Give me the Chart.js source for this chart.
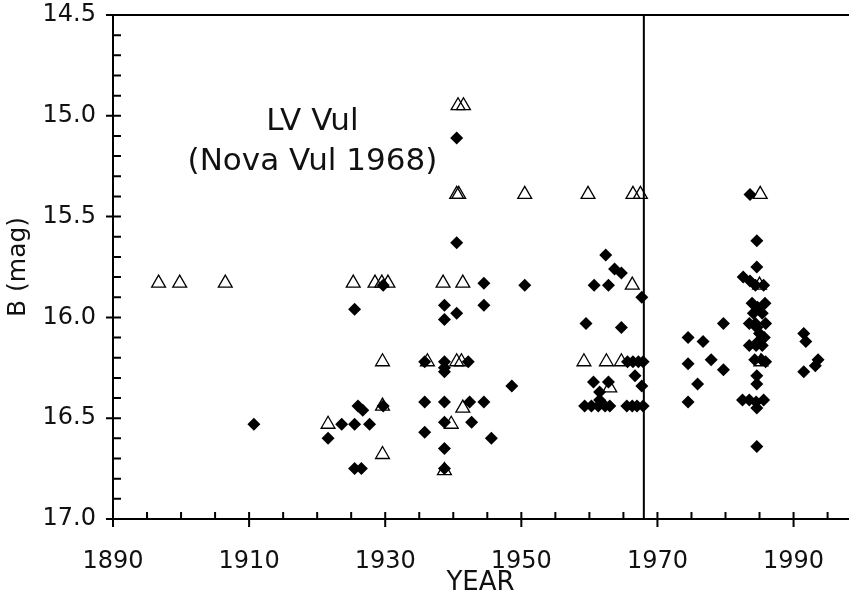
<!DOCTYPE html>
<html>
<head>
<meta charset="utf-8">
<title>LV Vul light curve</title>
<script src="https://cdn.jsdelivr.net/npm/chart.js@4.4.0/dist/chart.umd.min.js"></script>
<style>
	html, body { margin: 0; padding: 0; background: #fff; }
	canvas { display: block; }
</style>
</head>
<body>
<canvas id="lightCurve" width="849" height="596"></canvas>
<script>
const xTicks = [1890, 1910, 1930, 1950, 1970, 1990];
const yTicks = [14.5, 15.0, 15.5, 16.0, 16.5, 17.0];
const novaYear = 1968;
const labelLines = ["LV Vul", "(Nova Vul 1968)"];
const labelYear = 1919.3;
const labelMags = [15.03, 15.23];

// filled diamonds
const diamondYears = [
	1910.7, 1921.6, 1923.6, 1925.5, 1927.7, 1925.5, 1926.0, 1926.7, 1925.5, 1926.5,
	1929.7, 1929.7, 1935.8, 1935.8, 1935.8, 1938.7, 1938.7, 1938.7, 1938.7, 1938.7,
	1938.7, 1938.7, 1938.7, 1938.7, 1940.5, 1940.5, 1940.5, 1942.2, 1942.4, 1942.7,
	1944.5, 1944.5, 1944.5, 1945.6, 1948.6, 1950.5,
	1959.5, 1960.7, 1962.4, 1962.8, 1963.7, 1964.7, 1964.7, 1967.7, 1965.6, 1966.4,
	1967.2, 1967.9, 1966.7, 1960.6, 1962.8, 1961.5, 1967.7, 1959.3, 1960.3, 1961.3,
	1962.3, 1963.0, 1961.5, 1965.5, 1966.3, 1967.0, 1967.9,
	1974.5, 1974.5, 1974.5, 1975.9, 1976.7, 1977.9, 1979.7, 1979.7, 1983.6, 1984.6,
	1984.6, 1982.6, 1983.6, 1984.4, 1985.6, 1983.9, 1984.7, 1985.8, 1984.1, 1985.4,
	1983.5, 1984.4, 1985.9, 1984.6, 1985.0, 1985.7, 1984.8, 1983.5, 1984.5, 1985.4,
	1984.3, 1985.3, 1985.9, 1984.6, 1984.6, 1982.5, 1983.5, 1984.5, 1985.6, 1984.6,
	1984.6, 1991.5, 1991.8, 1991.5, 1993.6, 1993.2,
];
const diamondMags = [
	16.53, 16.60, 16.53, 16.53, 16.53, 15.96, 16.44, 16.46, 16.75, 16.75,
	15.84, 16.44, 16.22, 16.42, 16.57, 15.94, 16.01, 16.22, 16.25, 16.27,
	16.42, 16.52, 16.65, 16.75, 15.11, 15.63, 15.98, 16.22, 16.42, 16.52,
	15.83, 15.94, 16.42, 16.60, 16.34, 15.84,
	16.03, 15.84, 15.69, 15.84, 15.76, 15.78, 16.05, 15.90, 16.22, 16.22,
	16.22, 16.22, 16.29, 16.32, 16.32, 16.37, 16.34, 16.44, 16.44, 16.44,
	16.44, 16.44, 16.41, 16.44, 16.44, 16.44, 16.44,
	16.10, 16.23, 16.42, 16.33, 16.12, 16.21, 16.03, 16.26, 15.39, 15.62,
	15.75, 15.80, 15.82, 15.84, 15.84, 15.93, 15.95, 15.93, 15.98, 15.98,
	16.03, 16.03, 16.03, 16.05, 16.08, 16.10, 16.12, 16.14, 16.14, 16.14,
	16.21, 16.21, 16.22, 16.29, 16.33, 16.41, 16.41, 16.42, 16.41, 16.45,
	16.64, 16.08, 16.12, 16.27, 16.21, 16.24,
];

// open triangles
const triangleYears = [
	1896.7, 1899.8, 1906.5, 1925.3, 1928.5, 1929.5, 1930.4, 1938.5, 1941.4, 1921.6,
	1929.6, 1929.6, 1929.6, 1936.2, 1940.5, 1941.2, 1941.4, 1939.7, 1938.7, 1940.7,
	1941.5, 1940.5, 1940.8, 1950.5, 1959.8, 1966.4, 1967.5, 1966.3, 1959.2, 1962.5,
	1964.7, 1963.0, 1985.1, 1985.0, 1985.2,
];
const triangleMags = [
	15.83, 15.83, 15.83, 15.83, 15.83, 15.83, 15.83, 15.83, 15.83, 16.53,
	16.22, 16.44, 16.68, 16.22, 16.22, 16.22, 16.45, 16.53, 16.76, 14.95,
	14.95, 15.39, 15.39, 15.39, 15.39, 15.39, 15.39, 15.84, 16.22, 16.22,
	16.22, 16.35, 15.39, 15.84, 16.22,
];

const toPoints = (xs, ys) => xs.map((v, i) => ({ x: v, y: ys[i] }));

Chart.defaults.font.family = "'DejaVu Sans', Verdana, sans-serif";
Chart.defaults.color = "#111";

// keep the tick labels from pushing the plot area inwards
function noLabelPadding(s) {
	s.paddingTop = 0;
	s.paddingBottom = 0;
	s.paddingLeft = 0;
	s.paddingRight = 0;
}

const frameAndTicks = {
	id: "frameAndTicks",
	afterDraw(chart) {
		const { ctx, chartArea: a } = chart;
		const x = chart.scales.x;
		const y = chart.scales.y;
		ctx.save();
		ctx.strokeStyle = "#000";
		ctx.lineWidth = 2;
		ctx.beginPath();
		// top frame line
		ctx.moveTo(a.left, a.top);
		ctx.lineTo(a.right + 1, a.top);
		// eruption year
		const nx = x.getPixelForValue(novaYear);
		ctx.moveTo(nx, a.top);
		ctx.lineTo(nx, a.bottom);
		// x ticks, minor every 5 years
		for (let v = xTicks[0]; v <= x.max; v += 5) {
			const px = x.getPixelForValue(v);
			const major = xTicks.includes(v);
			ctx.moveTo(px, a.bottom - 7);
			ctx.lineTo(px, major ? a.bottom + 8 : a.bottom);
		}
		// y ticks, minor every 0.1 mag
		for (let i = 0; i <= 25; i++) {
			const py = y.getPixelForValue(yTicks[0] + i * 0.1);
			const major = i % 5 === 0;
			ctx.moveTo(major ? a.left - 7 : a.left, py);
			ctx.lineTo(a.left + 8, py);
		}
		ctx.stroke();

		ctx.fillStyle = "#111";
		ctx.font = "31px 'DejaVu Sans'";
		ctx.textAlign = "center";
		ctx.textBaseline = "middle";
		labelLines.forEach((t, i) => {
			ctx.fillText(t, x.getPixelForValue(labelYear), y.getPixelForValue(labelMags[i]));
		});
		ctx.restore();
	},
};

const ctx = document.getElementById("lightCurve").getContext("2d");
new Chart(ctx, {
	type: "scatter",
	data: {
		datasets: [
			{
				label: "diamonds",
				data: toPoints(diamondYears, diamondMags),
				pointStyle: "rectRot",
				pointRadius: 6.5,
				backgroundColor: "#000",
				borderColor: "#000",
				borderWidth: 0,
			},
			{
				label: "triangles",
				data: toPoints(triangleYears, triangleMags),
				pointStyle: "triangle",
				pointRadius: 8,
				backgroundColor: "rgba(0,0,0,0)",
				borderColor: "#000",
				borderWidth: 1.3,
			},
		],
	},
	options: {
		responsive: false,
		animation: false,
		events: [],
		layout: {
			autoPadding: false,
			padding: { top: 15, right: 1, left: 0, bottom: 0 },
		},
		plugins: {
			legend: { display: false },
			tooltip: { enabled: false },
		},
		scales: {
			x: {
				type: "linear",
				min: 1890,
				max: 1998,
				afterBuildTicks: (s) => { s.ticks = xTicks.map((v) => ({ value: v })); },
				afterFit: (s) => { s.height = 77; noLabelPadding(s); },
				ticks: {
					font: { size: 24 },
					padding: 28,
					autoSkip: false,
					maxRotation: 0,
					callback: (v) => String(v),
				},
				grid: { display: false, drawTicks: false },
				border: { display: true, color: "#000", width: 2 },
				title: {
					display: true,
					text: "YEAR",
					font: { size: 26, lineHeight: 1 },
					padding: 0,
				},
			},
			y: {
				type: "linear",
				reverse: true,
				min: 14.5,
				max: 17.0,
				afterBuildTicks: (s) => { s.ticks = yTicks.map((v) => ({ value: v })); },
				afterFit: (s) => { s.width = 113; noLabelPadding(s); },
				ticks: {
					font: { size: 24 },
					padding: 17,
					autoSkip: false,
					callback: (v) => Number(v).toFixed(1),
				},
				grid: { display: false, drawTicks: false },
				border: { display: true, color: "#000", width: 2 },
				title: {
					display: true,
					text: "B (mag)",
					font: { size: 25 },
					padding: { top: 3, bottom: 0 },
				},
			},
		},
	},
	plugins: [frameAndTicks],
});
</script>
</body>
</html>
